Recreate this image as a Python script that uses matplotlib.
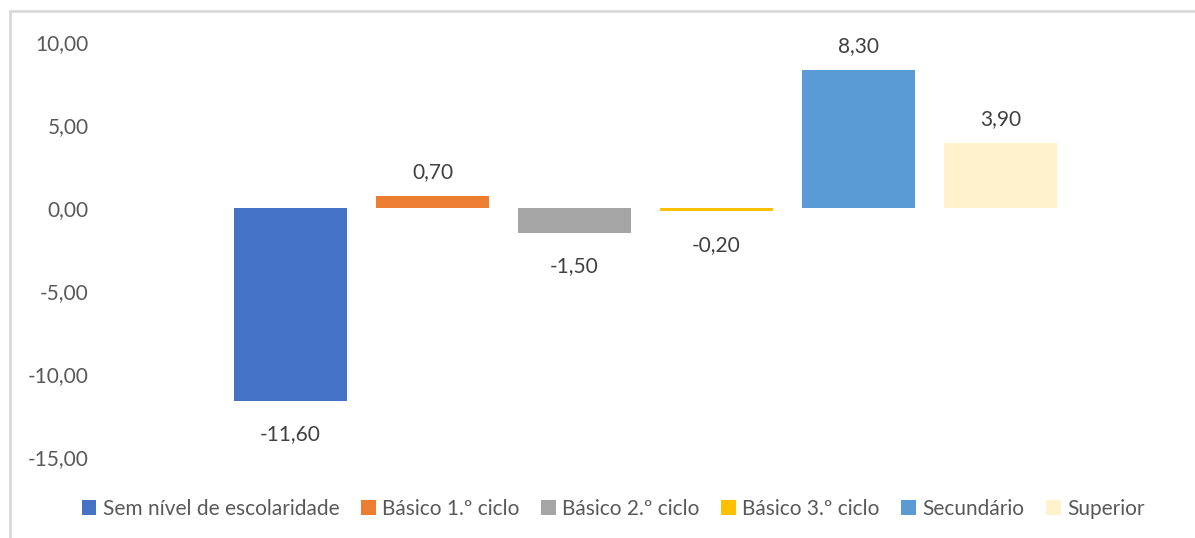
import matplotlib
matplotlib.use("Agg")
import matplotlib.pyplot as plt
from matplotlib.patches import Rectangle

categories = ["Sem nível de escolaridade", "Básico 1.º ciclo", "Básico 2.º ciclo",
              "Básico 3.º ciclo", "Secundário", "Superior"]
values = [-11.6, 0.7, -1.5, -0.2, 8.3, 3.9]
colors = ["#4472C4", "#ED7D31", "#A5A5A5", "#FFC000", "#5B9BD5", "#FFF2CC"]
yticks = [10, 5, 0, -5, -10, -15]

plt.rcParams['font.family'] = ['Lato', 'DejaVu Sans']
FS = 15

W, H = 1195, 538
fig = plt.figure(figsize=(W / 100, H / 100), dpi=100)

# outer chart border (light gray), left & top visible
fig.patches.append(Rectangle((10 / W, -0.1), 1.2, (H - 11) / H + 0.1, transform=fig.transFigure,
                             fill=False, edgecolor="#D9D9D9", linewidth=2))

left, right, top, bottom = 100, 1180, 30, 470
ax = fig.add_axes([left / W, 1 - bottom / H, (right - left) / W, (bottom - top) / H])

pxu = 142.0
xmin = -(290.5 - left) / pxu
xmax = xmin + (right - left) / pxu
ypx = 16.6
ymax = (208 - top) / ypx
ymin = -(bottom - 208) / ypx

x = list(range(len(values)))
bars = ax.bar(x, values, width=113 / pxu, color=colors)
for i, (b, v) in enumerate(zip(bars, values)):
    txt = f"{v:.2f}".replace(".", ",")
    if v >= 0:
        ax.annotate(txt, (x[i], v), xytext=(0, 10), textcoords="offset points",
                    ha="center", va="bottom", fontsize=FS, color="#404040")
    else:
        ax.annotate(txt, (x[i], v), xytext=(0, -17), textcoords="offset points",
                    ha="center", va="top", fontsize=FS, color="#404040")

ax.set_xlim(xmin, xmax)
ax.set_ylim(ymin, ymax)
ax.set_yticks(yticks)
ax.set_yticklabels([f"{t:.2f}".replace(".", ",") for t in yticks])
ax.tick_params(axis="y", length=0, labelsize=FS, labelcolor="#595959", pad=8)
ax.set_xticks([])
for s in ax.spines.values():
    s.set_visible(False)

fig.legend(handles=list(bars), labels=categories, loc="center",
           bbox_to_anchor=(613 / W, 1 - 509 / H), ncol=6, frameon=False,
           fontsize=FS, labelcolor="#595959", handlelength=0.7, handleheight=0.7,
           handletextpad=0.3, columnspacing=1.05)

fig.savefig("out.png", dpi=100)
